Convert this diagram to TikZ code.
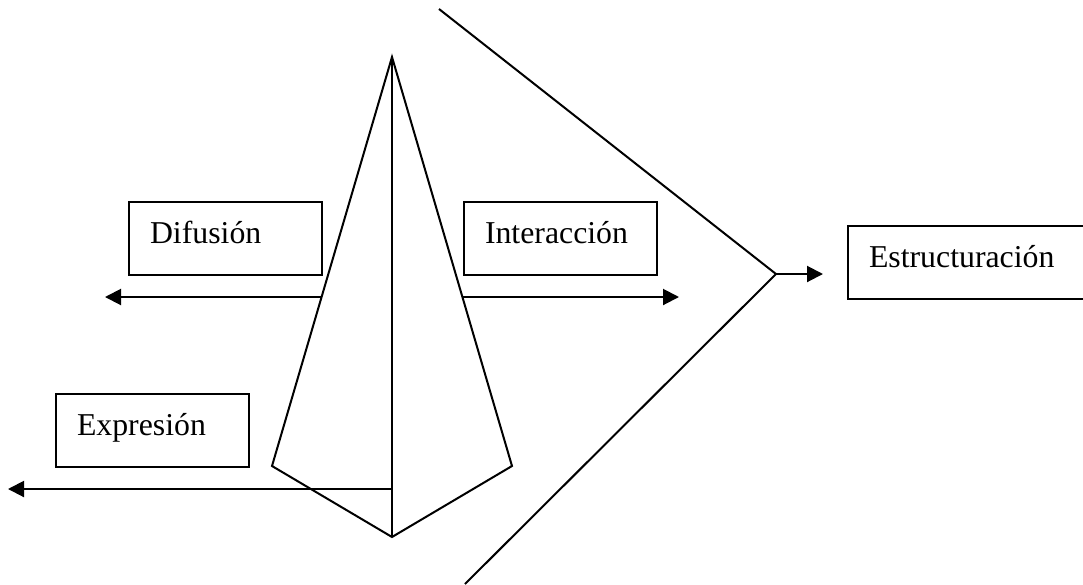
\documentclass[tikz,border=0pt]{standalone}
\usepackage{fontspec}
\setmainfont{Liberation Serif}
\usetikzlibrary{arrows.meta}
\begin{document}
\begin{tikzpicture}[x=1pt,y=-1pt,
  line width=2pt,
  labelbox/.style={draw, anchor=north west, inner xsep=21pt, inner ysep=0pt,
    text height=41pt, text depth=32pt, align=left,
    font=\fontsize{31.8}{38}\selectfont},
  arr/.style={-{Triangle[length=16pt,width=16pt]}}]
\useasboundingbox (0,0) rectangle (1083,584);
\clip (0,0) rectangle (1083,584);
% kite
\coordinate (apex) at (392,57);
\coordinate (kl) at (272,466);
\coordinate (kb) at (392,537);
\coordinate (kr) at (512,466);
\draw[line join=miter] (apex) -- (kl) -- (kb) -- (kr) -- cycle;
\draw (apex) -- (kb);
% boxes
\node[labelbox, text width=151pt] (dif) at (128,201) {Difusión};
\node[labelbox, text width=151pt] (int) at (463,201) {Interacción};
\node[labelbox, text width=151pt] (exp) at (55,393) {Expresión};
\node[labelbox, text width=230pt] (est) at (847,225) {Estructuración};
% arrows from kite
\coordinate (difS) at (321.6,297);
\coordinate (difE) at (105,297);
\coordinate (intS) at (462.4,297);
\coordinate (intE) at (679,297);
\coordinate (expS) at (392,489);
\coordinate (expE) at (8,489);
\draw[arr] (difS) -- (difE);
\draw[arr] (intS) -- (intE);
\draw[arr] (expS) -- (expE);
% wedge
\coordinate (junc) at (776,274);
\coordinate (topEnd) at (439,9);
\coordinate (botEnd) at (465,584);
\coordinate (estE) at (823,274);
\draw (topEnd) -- (junc) -- (botEnd);
\draw[arr] (junc) -- (estE);
\end{tikzpicture}
\end{document}
